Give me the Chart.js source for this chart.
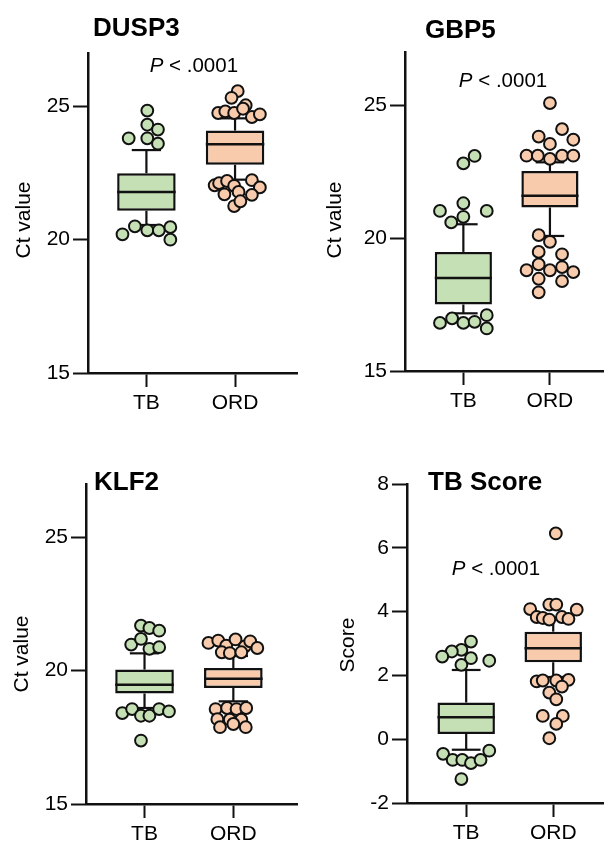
<!DOCTYPE html>
<html>
<head>
<meta charset="utf-8">
<script src="https://cdn.jsdelivr.net/npm/chart.js@4"></script>
<style>
  html, body { margin: 0; padding: 0; background: #fff; overflow: hidden; }
  #wrap { position: relative; width: 611px; height: 843px; }
  canvas { position: absolute; }
</style>
</head>
<body>
<div id="wrap">
  <canvas id="c1" width="305" height="420" style="left:0;top:0"></canvas>
  <canvas id="c2" width="306" height="420" style="left:305px;top:0"></canvas>
  <canvas id="c3" width="305" height="423" style="left:0;top:420px"></canvas>
  <canvas id="c4" width="306" height="423" style="left:305px;top:420px"></canvas>
</div>
<script>
// ---------------- DATA ----------------
const categories = ['TB', 'ORD'];
const ctTicks = [15, 20, 25];
const scoreTicks = [-2, 0, 2, 4, 6, 8];
const pLabel = '< .0001';

// box stats per group: [whiskerLow, q1, median, q3, whiskerHigh]
const dusp3Box = [[20.55, 21.08, 21.79, 22.49, 23.36], [22.25, 22.81, 23.58, 24.09, 24.55]];
const dusp3TB = [24.84, 24.31, 24.13, 23.80, 23.80, 23.60, 20.50, 20.35, 20.35, 20.47, 20.20, 20.00];
const dusp3TBJitter = [0.01, 0.01, 0.13, -0.20, 0.01, 0.13, -0.13, 0.01, 0.14, 0.27, -0.27, 0.27];
const dusp3ORD = [25.57, 25.32, 25.04, 24.75, 24.81, 24.75, 24.91, 24.60, 24.70,
                  22.04, 22.12, 22.20, 22.02, 22.23, 21.96, 21.70, 21.79, 21.68, 21.26, 21.44];
const dusp3ORDJitter = [0.03, -0.04, 0.12, -0.19, -0.11, -0.01, 0.09, 0.19, 0.28,
                        -0.23, -0.18, -0.09, -0.01, 0.19, 0.28, -0.12, 0.04, 0.19, -0.01, 0.06];

const gbp5Box = [[17.17, 17.50, 18.50, 19.48, 20.52], [20.08, 21.15, 21.59, 22.52, 22.85]];
const gbp5TB = [22.81, 23.09, 21.02, 21.31, 21.02, 20.59, 20.80, 16.81, 16.98, 16.81, 16.85, 17.10, 16.60];
const gbp5TBJitter = [0, 0.13, -0.27, 0, 0.27, -0.14, 0, -0.27, -0.13, 0, 0.13, 0.27, 0.27];
const gbp5ORD = [25.08, 24.10, 23.82, 23.70, 23.54, 23.10, 23.10, 22.98, 23.10, 23.10,
                 20.11, 19.86, 19.48, 19.39, 18.79, 19.01, 18.79, 18.91, 18.72, 18.47, 18.38, 17.96];
const gbp5ORDJitter = [0, 0.14, -0.13, 0.27, 0, -0.27, -0.14, 0, 0.14, 0.27,
                       -0.13, 0, -0.13, 0.14, -0.27, -0.13, 0, 0.14, 0.27, -0.13, 0.14, -0.13];

const klf2Box = [[18.60, 19.14, 19.47, 20.04, 20.65], [18.85, 19.35, 19.70, 20.10, 20.55]];
const klf2TB = [21.69, 21.60, 21.50, 20.98, 21.19, 20.82, 20.88, 18.41, 18.56, 18.31, 18.31, 18.56, 18.47, 17.38];
const klf2TBJitter = [-0.04, 0.055, 0.165, -0.15, -0.04, 0.055, 0.165, -0.25, -0.14, -0.04, 0.055, 0.165, 0.275, -0.04];
const klf2ORD = [21.04, 21.13, 20.94, 21.17, 20.91, 21.10, 20.85, 20.69, 20.66, 20.69,
                 18.56, 18.60, 18.56, 18.60, 18.18, 18.16, 18.16, 17.88, 18.00, 17.88];
const klf2ORDJitter = [-0.28, -0.17, -0.08, 0.025, 0.13, 0.19, 0.27, -0.13, -0.04, 0.09,
                       -0.20, -0.07, 0.036, 0.145, -0.18, -0.04, 0.09, -0.15, 0, 0.14];

const tbsBox = [[-0.33, 0.16, 0.69, 1.15, 2.17], [1.95, 2.41, 2.85, 3.37, 3.80]];
const tbsTB = [3.06, 2.80, 2.75, 2.59, 2.54, 2.46, 2.33, -0.46, -0.65, -0.65, -0.75, -0.65, -0.36, -1.25];
const tbsTBJitter = [0.055, -0.055, -0.165, -0.275, 0.055, 0.265, -0.055, -0.265, -0.155, -0.045, 0.055, 0.165, 0.265, -0.055];
const tbsORD = [6.45, 4.08, 4.22, 4.22, 4.06, 3.83, 3.80, 3.75, 3.83, 3.77,
                1.81, 1.84, 1.84, 1.86, 1.65, 1.46, 1.25, 0.73, 0.73, 0.48, 0.03];
const tbsORDJitter = [0.03, -0.265, -0.045, 0.035, 0.27, -0.19, -0.12, -0.045, 0.10, 0.175,
                      -0.19, -0.12, 0.035, 0.175, 0.10, -0.045, 0.035, -0.12, 0.11, 0.035, -0.045];

// ---------------- STYLE ----------------
const FONT = '"Liberation Sans", Arial, Helvetica, sans-serif';
const fills = ['#c5e0b4', '#f8cbad'];
const ink = '#111111';
const BOX_HALF = 0.33, CAP_HALF = 0.165;

const panelText = {
  id: 'panelText',
  afterDraw(chart, args, o) {
    const ctx = chart.ctx;
    ctx.save();
    ctx.fillStyle = '#000';
    ctx.textAlign = 'left';
    ctx.textBaseline = 'alphabetic';
    ctx.font = 'bold 26px ' + FONT;
    ctx.fillText(o.title, o.titleX, o.titleY);
    ctx.save();
    ctx.translate(o.ylabX, o.ylabY);
    ctx.rotate(-Math.PI / 2);
    ctx.font = '21px ' + FONT;
    ctx.textAlign = 'center';
    ctx.textBaseline = 'middle';
    ctx.fillText(o.ylabel, 0, 0);
    ctx.restore();
    if (o.p) {
      const px = chart.scales.x.getPixelForValue(o.p[0]);
      const py = chart.scales.y.getPixelForValue(o.p[1]);
      ctx.font = 'italic 20.5px ' + FONT;
      ctx.fillText('P', px, py);
      const w = ctx.measureText('P ').width;
      ctx.font = '20.5px ' + FONT;
      ctx.fillText(pLabel, px + w, py);
    }
    ctx.restore();
  }
};

function buildDatasets(box, tb, tbJ, ord, ordJ) {
  const ds = [];
  const pts = [[tb, tbJ], [ord, ordJ]];
  pts.forEach((p, g) => {
    ds.push({
      type: 'scatter', order: 0,
      data: p[0].map((v, i) => ({ x: g + p[1][i], y: v })),
      backgroundColor: fills[g], borderColor: ink, borderWidth: 2,
      pointRadius: 5.9, pointHoverRadius: 5.9, clip: false
    });
  });
  const seg = (pts, order, w) => ({
    type: 'line', order: order, data: pts, showLine: true,
    borderColor: ink, borderWidth: w, pointRadius: 0, fill: false, clip: false
  });
  box.forEach((b, g) => {
    ds.push(seg([{ x: g - BOX_HALF, y: b[2] }, { x: g + BOX_HALF, y: b[2] }], 1, 2.5));
    ds.push(seg([{ x: g, y: b[3] }, { x: g, y: b[4] }], 2, 2.2));
    ds.push(seg([{ x: g, y: b[1] }, { x: g, y: b[0] }], 2, 2.2));
    ds.push(seg([{ x: g - CAP_HALF, y: b[4] }, { x: g + CAP_HALF, y: b[4] }], 2, 2.2));
    ds.push(seg([{ x: g - CAP_HALF, y: b[0] }, { x: g + CAP_HALF, y: b[0] }], 2, 2.2));
  });
  ds.push({
    type: 'bar', order: 3,
    data: box.map((b, g) => ({ x: g, y: [b[1], b[3]] })),
    backgroundColor: fills, borderColor: ink, borderWidth: 2.5, borderSkipped: false,
    barPercentage: 2 * BOX_HALF, categoryPercentage: 1
  });
  return ds;
}

function makeChart(id, L, datasets, yTicks, ymin, ymax, text) {
  const tickFont = { family: FONT, size: 21 };
  new Chart(document.getElementById(id), {
    type: 'scatter',
    data: { datasets },
    options: {
      responsive: false, animation: false, events: [],
      layout: { padding: { left: 0, top: L.top, right: L.right, bottom: 0 } },
      plugins: { legend: { display: false }, tooltip: { enabled: false }, panelText: text },
      scales: {
        x: {
          type: 'linear', min: L.xmin, max: L.xmax, offset: false,
          afterFit: s => { s.height = L.xh; },
          afterBuildTicks: s => { s.ticks = categories.map((c, i) => ({ value: i })); },
          ticks: { callback: v => categories[v], font: tickFont, color: '#000', padding: 4, autoSkip: false, maxRotation: 0 },
          grid: { offset: false, drawOnChartArea: false, drawTicks: true, tickLength: 14, tickWidth: 2, tickColor: ink },
          border: { display: true, width: 2.5, color: ink }
        },
        y: {
          type: 'linear', min: ymin, max: ymax, beginAtZero: false,
          afterFit: s => { s.width = L.axisX; },
          afterBuildTicks: s => { s.ticks = yTicks.map(v => ({ value: v })); },
          ticks: { font: tickFont, color: '#000', padding: 3 },
          grid: { drawOnChartArea: false, drawTicks: true, tickLength: 15, tickWidth: 2, tickColor: ink },
          border: { display: true, width: 2.5, color: ink }
        }
      }
    },
    plugins: [panelText]
  });
}

makeChart('c1', { axisX: 88, top: 53, right: 2, xh: 47, xmin: -0.659, xmax: 1.70 },
  buildDatasets(dusp3Box, dusp3TB, dusp3TBJitter, dusp3ORD, dusp3ORDJitter), ctTicks, 15, 27,
  { title: 'DUSP3', titleX: 93, titleY: 36, ylabel: 'Ct value', ylabX: 24, ylabY: 220, p: [0.037, 26.3] });

makeChart('c2', { axisX: 100, top: 52, right: 0, xh: 49, xmin: -0.674, xmax: 1.614 },
  buildDatasets(gbp5Box, gbp5TB, gbp5TBJitter, gbp5ORD, gbp5ORDJitter), ctTicks, 15, 27,
  { title: 'GBP5', titleX: 120, titleY: 37.5, ylabel: 'Ct value', ylabX: 30.5, ylabY: 220, p: [-0.052, 25.68] });

makeChart('c3', { axisX: 86, top: 64, right: 3, xh: 39, xmin: -0.659, xmax: 1.718 },
  buildDatasets(klf2Box, klf2TB, klf2TBJitter, klf2ORD, klf2ORDJitter), ctTicks, 15, 27,
  { title: 'KLF2', titleX: 94, titleY: 70, ylabel: 'Ct value', ylabX: 22.5, ylabY: 234, p: null });

makeChart('c4', { axisX: 102, top: 64, right: 0, xh: 40, xmin: -0.68, xmax: 1.573 },
  buildDatasets(tbsBox, tbsTB, tbsTBJitter, tbsORD, tbsORDJitter), scoreTicks, -2, 8,
  { title: 'TB Score', titleX: 123, titleY: 70, ylabel: 'Score', ylabX: 43, ylabY: 225, p: [-0.165, 5.15] });
</script>
</body>
</html>
